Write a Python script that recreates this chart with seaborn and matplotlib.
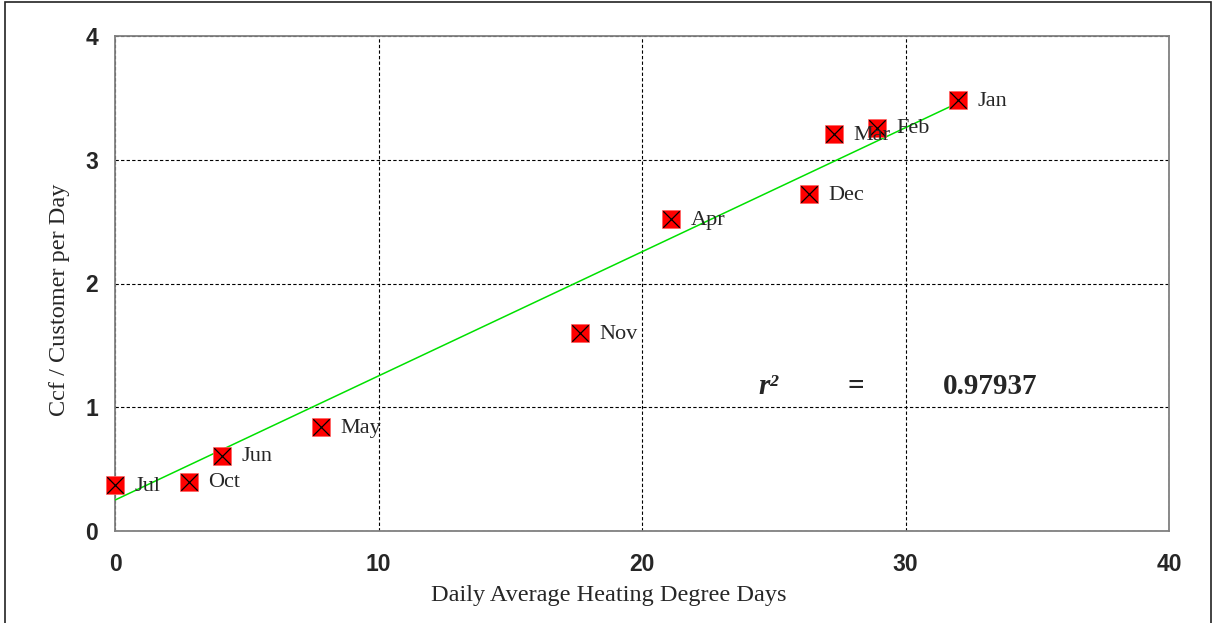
import numpy as np
import pandas as pd
import seaborn as sns
from matplotlib import pyplot as plt
from matplotlib.patches import Rectangle

# monthly points
months = ['Jul', 'Oct', 'Jun', 'May', 'Nov', 'Apr', 'Dec', 'Mar', 'Feb', 'Jan']
hdd = [0.0, 2.8, 4.05, 7.8, 17.65, 21.1, 26.35, 27.3, 28.9, 32.0]
ccf = [0.37, 0.40, 0.61, 0.84, 1.60, 2.52, 2.72, 3.21, 3.26, 3.48]
# trend line ends as drawn on the chart
trend_x = [0.0, 31.7]
trend_y = [0.25, 3.43]
r2_text = '0.97937'

df = pd.DataFrame({'month': months, 'hdd': hdd, 'ccf': ccf})

sns.set_style('white')
plt.rcParams['font.family'] = ['Liberation Serif', 'DejaVu Serif']

fig = plt.figure(figsize=(12.18, 6.23), dpi=100)
ax = fig.add_axes([115/1218, 1 - 531/623, 1054/1218, 495/623])

# outer frame
fig.patches.append(Rectangle((5/1218, -0.01), 1206/1218, 1 - 2/623 + 0.01,
                             transform=fig.transFigure, fill=False,
                             edgecolor='#222222', linewidth=1.2))

ax.plot(trend_x, trend_y, color='#00e000', linewidth=1.1, zorder=3)

sns.scatterplot(x='hdd', y='ccf', data=df, marker='s', s=165, color='red',
                edgecolor='#ff6060', linewidth=0.5, ax=ax, zorder=4, clip_on=False)
sns.scatterplot(x='hdd', y='ccf', data=df, marker='x', s=140, color='black',
                linewidth=0.9, ax=ax, zorder=5, clip_on=False)

for m, x, y in zip(months, hdd, ccf):
    ax.annotate(m, (x, y), xytext=(14, -1), textcoords='offset points',
                ha='left', va='center', fontsize=16, zorder=6)

ax.set_xlim(0, 40)
ax.set_ylim(0, 4)
ax.set_xticks([0, 10, 20, 30, 40])
ax.set_yticks([0, 1, 2, 3, 4])
ax.grid(True, color='black', linestyle=(0, (3, 2)), linewidth=0.8)
ax.set_axisbelow(True)
for s in ax.spines.values():
    s.set_color('#808080')
    s.set_linewidth(1.3)
ax.tick_params(axis='x', length=0, pad=16)
ax.tick_params(axis='y', length=0, pad=12)
for lab in ax.get_xticklabels() + ax.get_yticklabels():
    lab.set_family('Liberation Sans')
    lab.set_fontweight('bold')
    lab.set_fontsize(16.5)

ax.set_xlabel('Daily Average Heating Degree Days', fontsize=17.5)
ax.set_ylabel('Ccf / Customer per Day', fontsize=17.5)
ax.xaxis.set_label_coords(494/1054, -54/495)
ax.yaxis.set_label_coords(-45/1054, 231/495)

ax.text(24.4, 1.17, 'r²', fontsize=21, fontweight='bold', style='italic',
        ha='left', va='center')
ax.text(28.1, 1.17, '=', fontsize=21, fontweight='bold', ha='center', va='center')
ax.text(31.4, 1.17, r2_text, fontsize=21, fontweight='bold', ha='left', va='center')

fig.savefig('out.png', dpi=100)
